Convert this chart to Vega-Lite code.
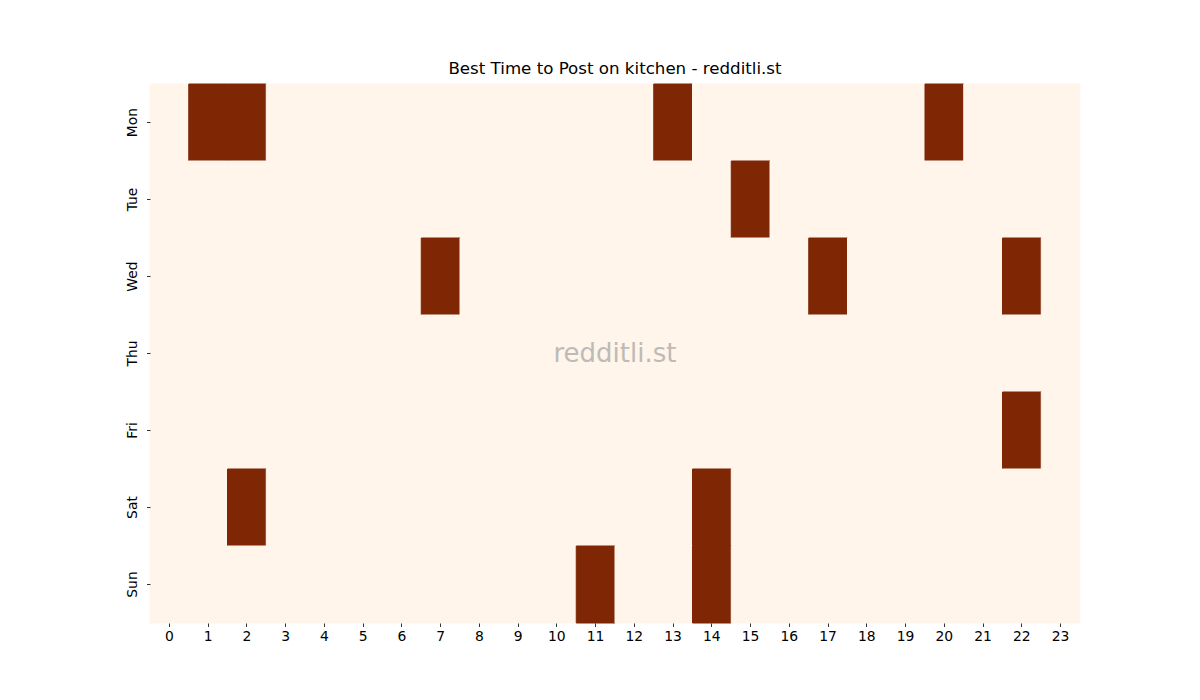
{
  "$schema": "https://vega.github.io/schema/vega-lite/v6.json",
  "autosize": "none",
  "padding": {"left": 150, "top": 84, "right": 120, "bottom": 77},
  "width": 930,
  "height": 539,
  "background": "white",
  "title": {
    "text": "Best Time to Post on kitchen - redditli.st",
    "font": "DejaVu Sans",
    "fontSize": 16.67,
    "fontWeight": "normal",
    "color": "black",
    "offset": 6
  },
  "layer": [
    {
      "data": {
        "values": [
          {"day": "Mon", "hour": 0, "value": 0}, {"day": "Mon", "hour": 1, "value": 1}, {"day": "Mon", "hour": 2, "value": 1}, {"day": "Mon", "hour": 3, "value": 0},
          {"day": "Mon", "hour": 4, "value": 0}, {"day": "Mon", "hour": 5, "value": 0}, {"day": "Mon", "hour": 6, "value": 0}, {"day": "Mon", "hour": 7, "value": 0},
          {"day": "Mon", "hour": 8, "value": 0}, {"day": "Mon", "hour": 9, "value": 0}, {"day": "Mon", "hour": 10, "value": 0}, {"day": "Mon", "hour": 11, "value": 0},
          {"day": "Mon", "hour": 12, "value": 0}, {"day": "Mon", "hour": 13, "value": 1}, {"day": "Mon", "hour": 14, "value": 0}, {"day": "Mon", "hour": 15, "value": 0},
          {"day": "Mon", "hour": 16, "value": 0}, {"day": "Mon", "hour": 17, "value": 0}, {"day": "Mon", "hour": 18, "value": 0}, {"day": "Mon", "hour": 19, "value": 0},
          {"day": "Mon", "hour": 20, "value": 1}, {"day": "Mon", "hour": 21, "value": 0}, {"day": "Mon", "hour": 22, "value": 0}, {"day": "Mon", "hour": 23, "value": 0},
          {"day": "Tue", "hour": 0, "value": 0}, {"day": "Tue", "hour": 1, "value": 0}, {"day": "Tue", "hour": 2, "value": 0}, {"day": "Tue", "hour": 3, "value": 0},
          {"day": "Tue", "hour": 4, "value": 0}, {"day": "Tue", "hour": 5, "value": 0}, {"day": "Tue", "hour": 6, "value": 0}, {"day": "Tue", "hour": 7, "value": 0},
          {"day": "Tue", "hour": 8, "value": 0}, {"day": "Tue", "hour": 9, "value": 0}, {"day": "Tue", "hour": 10, "value": 0}, {"day": "Tue", "hour": 11, "value": 0},
          {"day": "Tue", "hour": 12, "value": 0}, {"day": "Tue", "hour": 13, "value": 0}, {"day": "Tue", "hour": 14, "value": 0}, {"day": "Tue", "hour": 15, "value": 1},
          {"day": "Tue", "hour": 16, "value": 0}, {"day": "Tue", "hour": 17, "value": 0}, {"day": "Tue", "hour": 18, "value": 0}, {"day": "Tue", "hour": 19, "value": 0},
          {"day": "Tue", "hour": 20, "value": 0}, {"day": "Tue", "hour": 21, "value": 0}, {"day": "Tue", "hour": 22, "value": 0}, {"day": "Tue", "hour": 23, "value": 0},
          {"day": "Wed", "hour": 0, "value": 0}, {"day": "Wed", "hour": 1, "value": 0}, {"day": "Wed", "hour": 2, "value": 0}, {"day": "Wed", "hour": 3, "value": 0},
          {"day": "Wed", "hour": 4, "value": 0}, {"day": "Wed", "hour": 5, "value": 0}, {"day": "Wed", "hour": 6, "value": 0}, {"day": "Wed", "hour": 7, "value": 1},
          {"day": "Wed", "hour": 8, "value": 0}, {"day": "Wed", "hour": 9, "value": 0}, {"day": "Wed", "hour": 10, "value": 0}, {"day": "Wed", "hour": 11, "value": 0},
          {"day": "Wed", "hour": 12, "value": 0}, {"day": "Wed", "hour": 13, "value": 0}, {"day": "Wed", "hour": 14, "value": 0}, {"day": "Wed", "hour": 15, "value": 0},
          {"day": "Wed", "hour": 16, "value": 0}, {"day": "Wed", "hour": 17, "value": 1}, {"day": "Wed", "hour": 18, "value": 0}, {"day": "Wed", "hour": 19, "value": 0},
          {"day": "Wed", "hour": 20, "value": 0}, {"day": "Wed", "hour": 21, "value": 0}, {"day": "Wed", "hour": 22, "value": 1}, {"day": "Wed", "hour": 23, "value": 0},
          {"day": "Thu", "hour": 0, "value": 0}, {"day": "Thu", "hour": 1, "value": 0}, {"day": "Thu", "hour": 2, "value": 0}, {"day": "Thu", "hour": 3, "value": 0},
          {"day": "Thu", "hour": 4, "value": 0}, {"day": "Thu", "hour": 5, "value": 0}, {"day": "Thu", "hour": 6, "value": 0}, {"day": "Thu", "hour": 7, "value": 0},
          {"day": "Thu", "hour": 8, "value": 0}, {"day": "Thu", "hour": 9, "value": 0}, {"day": "Thu", "hour": 10, "value": 0}, {"day": "Thu", "hour": 11, "value": 0},
          {"day": "Thu", "hour": 12, "value": 0}, {"day": "Thu", "hour": 13, "value": 0}, {"day": "Thu", "hour": 14, "value": 0}, {"day": "Thu", "hour": 15, "value": 0},
          {"day": "Thu", "hour": 16, "value": 0}, {"day": "Thu", "hour": 17, "value": 0}, {"day": "Thu", "hour": 18, "value": 0}, {"day": "Thu", "hour": 19, "value": 0},
          {"day": "Thu", "hour": 20, "value": 0}, {"day": "Thu", "hour": 21, "value": 0}, {"day": "Thu", "hour": 22, "value": 0}, {"day": "Thu", "hour": 23, "value": 0},
          {"day": "Fri", "hour": 0, "value": 0}, {"day": "Fri", "hour": 1, "value": 0}, {"day": "Fri", "hour": 2, "value": 0}, {"day": "Fri", "hour": 3, "value": 0},
          {"day": "Fri", "hour": 4, "value": 0}, {"day": "Fri", "hour": 5, "value": 0}, {"day": "Fri", "hour": 6, "value": 0}, {"day": "Fri", "hour": 7, "value": 0},
          {"day": "Fri", "hour": 8, "value": 0}, {"day": "Fri", "hour": 9, "value": 0}, {"day": "Fri", "hour": 10, "value": 0}, {"day": "Fri", "hour": 11, "value": 0},
          {"day": "Fri", "hour": 12, "value": 0}, {"day": "Fri", "hour": 13, "value": 0}, {"day": "Fri", "hour": 14, "value": 0}, {"day": "Fri", "hour": 15, "value": 0},
          {"day": "Fri", "hour": 16, "value": 0}, {"day": "Fri", "hour": 17, "value": 0}, {"day": "Fri", "hour": 18, "value": 0}, {"day": "Fri", "hour": 19, "value": 0},
          {"day": "Fri", "hour": 20, "value": 0}, {"day": "Fri", "hour": 21, "value": 0}, {"day": "Fri", "hour": 22, "value": 1}, {"day": "Fri", "hour": 23, "value": 0},
          {"day": "Sat", "hour": 0, "value": 0}, {"day": "Sat", "hour": 1, "value": 0}, {"day": "Sat", "hour": 2, "value": 1}, {"day": "Sat", "hour": 3, "value": 0},
          {"day": "Sat", "hour": 4, "value": 0}, {"day": "Sat", "hour": 5, "value": 0}, {"day": "Sat", "hour": 6, "value": 0}, {"day": "Sat", "hour": 7, "value": 0},
          {"day": "Sat", "hour": 8, "value": 0}, {"day": "Sat", "hour": 9, "value": 0}, {"day": "Sat", "hour": 10, "value": 0}, {"day": "Sat", "hour": 11, "value": 0},
          {"day": "Sat", "hour": 12, "value": 0}, {"day": "Sat", "hour": 13, "value": 0}, {"day": "Sat", "hour": 14, "value": 1}, {"day": "Sat", "hour": 15, "value": 0},
          {"day": "Sat", "hour": 16, "value": 0}, {"day": "Sat", "hour": 17, "value": 0}, {"day": "Sat", "hour": 18, "value": 0}, {"day": "Sat", "hour": 19, "value": 0},
          {"day": "Sat", "hour": 20, "value": 0}, {"day": "Sat", "hour": 21, "value": 0}, {"day": "Sat", "hour": 22, "value": 0}, {"day": "Sat", "hour": 23, "value": 0},
          {"day": "Sun", "hour": 0, "value": 0}, {"day": "Sun", "hour": 1, "value": 0}, {"day": "Sun", "hour": 2, "value": 0}, {"day": "Sun", "hour": 3, "value": 0},
          {"day": "Sun", "hour": 4, "value": 0}, {"day": "Sun", "hour": 5, "value": 0}, {"day": "Sun", "hour": 6, "value": 0}, {"day": "Sun", "hour": 7, "value": 0},
          {"day": "Sun", "hour": 8, "value": 0}, {"day": "Sun", "hour": 9, "value": 0}, {"day": "Sun", "hour": 10, "value": 0}, {"day": "Sun", "hour": 11, "value": 1},
          {"day": "Sun", "hour": 12, "value": 0}, {"day": "Sun", "hour": 13, "value": 0}, {"day": "Sun", "hour": 14, "value": 1}, {"day": "Sun", "hour": 15, "value": 0},
          {"day": "Sun", "hour": 16, "value": 0}, {"day": "Sun", "hour": 17, "value": 0}, {"day": "Sun", "hour": 18, "value": 0}, {"day": "Sun", "hour": 19, "value": 0},
          {"day": "Sun", "hour": 20, "value": 0}, {"day": "Sun", "hour": 21, "value": 0}, {"day": "Sun", "hour": 22, "value": 0}, {"day": "Sun", "hour": 23, "value": 0}
        ]
      },
      "mark": {"type": "rect", "strokeWidth": 1},
      "encoding": {
        "x": {"field": "hour", "type": "ordinal", "sort": "ascending"},
        "y": {
          "field": "day",
          "type": "ordinal",
          "sort": ["Mon", "Tue", "Wed", "Thu", "Fri", "Sat", "Sun"],
          "scale": {"domain": ["Mon", "Tue", "Wed", "Thu", "Fri", "Sat", "Sun"]}
        },
        "color": {
          "field": "value",
          "type": "quantitative",
          "scale": {"domain": [0, 1], "range": ["#fff5eb", "#7f2704"]},
          "legend": null
        },
        "stroke": {
          "field": "value",
          "type": "quantitative",
          "scale": {"domain": [0, 1], "range": ["#fff5eb", "#7f2704"]},
          "legend": null
        }
      }
    },
    {
      "data": {"values": [{"day": "Thu", "hour": 12, "label": "redditli.st"}]},
      "mark": {
        "type": "text",
        "font": "DejaVu Sans",
        "fontSize": 26,
        "color": "#808080",
        "opacity": 0.5,
        "align": "center",
        "baseline": "middle"
      },
      "encoding": {
        "x": {"field": "hour", "type": "ordinal", "sort": "ascending", "bandPosition": 0},
        "y": {
          "field": "day",
          "type": "ordinal",
          "sort": ["Mon", "Tue", "Wed", "Thu", "Fri", "Sat", "Sun"],
          "bandPosition": 0.5
        },
        "text": {"field": "label"}
      }
    }
  ],
  "config": {
    "view": {"stroke": null},
    "scale": {"bandPaddingInner": 0, "bandPaddingOuter": 0},
    "axis": {
      "title": null,
      "domain": false,
      "grid": false,
      "tickColor": "black",
      "tickSize": 3.5,
      "tickWidth": 0.8,
      "labelColor": "black",
      "labelFont": "DejaVu Sans",
      "labelFontSize": 13.9,
      "labelPadding": 3
    },
    "axisX": {"labelAngle": 0},
    "axisY": {"labelAngle": -90, "labelAlign": "center", "labelBaseline": "bottom", "labelPadding": 7}
  }
}
